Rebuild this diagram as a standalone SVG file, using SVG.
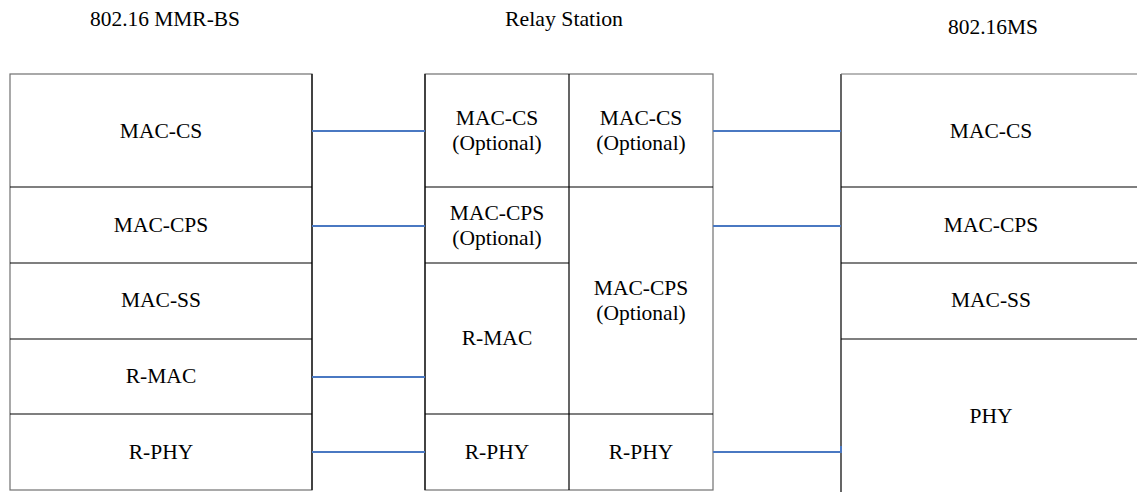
<svg xmlns="http://www.w3.org/2000/svg" width="1137" height="492" viewBox="0 0 1137 492">
<style>
text{font-family:'Liberation Serif','Times New Roman',Times,serif;font-size:21.5px;fill:#000;text-anchor:middle}
.box{fill:#fff;stroke:#707070;stroke-width:1.2}
.div{stroke:#000;stroke-width:1.2;fill:none}
.con{stroke:#4a78c2;stroke-width:2;fill:none}
</style>
<rect width="1137" height="492" fill="#fff"/>
<g id="titles">
<text x="165" y="26" textLength="150" lengthAdjust="spacingAndGlyphs">802.16 MMR-BS</text>
<text x="564" y="26" textLength="118" lengthAdjust="spacingAndGlyphs">Relay Station</text>
<text x="993" y="34" textLength="90" lengthAdjust="spacingAndGlyphs">802.16MS</text>
</g>
<g id="bs">
<rect class="box" x="10" y="74" width="302" height="416"/>
<path class="div" d="M312 74V490M10 187H312M10 263H312M10 339H312M10 414H312"/>
<text x="161" y="138">MAC-CS</text>
<text x="161" y="232">MAC-CPS</text>
<text x="161" y="307">MAC-SS</text>
<text x="161" y="383">R-MAC</text>
<text x="161" y="459">R-PHY</text>
</g>
<g id="rs">
<rect class="box" x="425" y="74" width="288" height="416"/>
<path class="div" d="M425 74V490M569 74V490M425 187H713M425 263H569M425 414H713"/>
<text x="497" y="125">MAC-CS</text>
<text x="497" y="150">(Optional)</text>
<text x="641" y="125">MAC-CS</text>
<text x="641" y="150">(Optional)</text>
<text x="497" y="220">MAC-CPS</text>
<text x="497" y="245">(Optional)</text>
<text x="497" y="345">R-MAC</text>
<text x="641" y="295">MAC-CPS</text>
<text x="641" y="320">(Optional)</text>
<text x="497" y="459">R-PHY</text>
<text x="641" y="459">R-PHY</text>
</g>
<g id="ms">
<path class="div" d="M841 492V74M841 187H1137M841 263H1137M841 339H1137"/>
<path d="M841 74H1137" stroke="#707070" stroke-width="1.2"/>
<text x="991" y="138">MAC-CS</text>
<text x="991" y="232">MAC-CPS</text>
<text x="991" y="307">MAC-SS</text>
<text x="991" y="423">PHY</text>
</g>
<g id="connectors">
<path class="con" d="M312 131H425"/>
<path class="con" d="M312 226H425"/>
<path class="con" d="M312 377H425"/>
<path class="con" d="M312 452H425"/>
<path class="con" d="M713 131H841"/>
<path class="con" d="M713 226H841"/>
<path class="con" d="M713 452H841V446"/>
</g>
</svg>
